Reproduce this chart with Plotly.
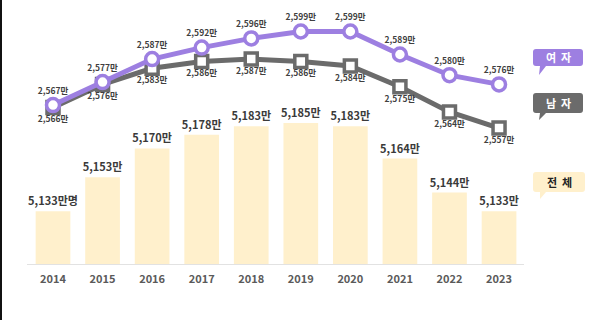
import plotly.graph_objects as go

years = ["2014", "2015", "2016", "2017", "2018", "2019", "2020", "2021", "2022", "2023"]
total = [5133, 5153, 5170, 5178, 5183, 5185, 5183, 5164, 5144, 5133]
female = [2567, 2577, 2587, 2592, 2596, 2599, 2599, 2589, 2580, 2576]
male = [2566, 2576, 2583, 2586, 2587, 2586, 2584, 2575, 2564, 2557]

W, H = 600, 320
PLOT_H = 264
FONT = "Noto Sans CJK KR"
PURPLE = "#9d7fe1"
GRAY = "#6b6b6b"
CREAM = "#fff0cc"

xs = list(range(len(years)))
total_txt = [f"{v:,}만" + ("명" if i == 0 else "") for i, v in enumerate(total)]
female_txt = [f"{v:,}만" for v in female]
male_txt = [f"{v:,}만" for v in male]

fig = go.Figure()
fig.add_trace(go.Bar(
    x=xs, y=total, width=0.7, marker=dict(color=CREAM, line=dict(width=0)),
    text=total_txt, textposition="outside", cliponaxis=False, constraintext="none",
    textfont=dict(family=FONT, size=11, color="#3a3a3a", weight=700),
    yaxis="y", hoverinfo="skip"))
fig.add_trace(go.Scatter(
    x=xs, y=male, mode="lines+markers+text", yaxis="y2",
    line=dict(color=GRAY, width=5),
    marker=dict(symbol="square", size=12, color="white", line=dict(color=GRAY, width=3.5)),
    text=male_txt, textposition="bottom center", cliponaxis=False,
    textfont=dict(family=FONT, size=8.5, color="#3f3f3f", weight=700), hoverinfo="skip"))
fig.add_trace(go.Scatter(
    x=xs, y=female, mode="lines+markers+text", yaxis="y2",
    line=dict(color=PURPLE, width=5),
    marker=dict(symbol="circle", size=13, color="white", line=dict(color=PURPLE, width=3.5)),
    text=female_txt, textposition="top center", cliponaxis=False,
    textfont=dict(family=FONT, size=8.5, color="#3f3f3f", weight=700), hoverinfo="skip"))

def X(p):
    return p / W

def Y(p):
    return 1 - p / PLOT_H

shapes = []
# baseline
shapes.append(dict(type="line", xref="paper", yref="paper", x0=X(27), x1=X(524), y0=Y(264.5), y1=Y(264.5),
                   line=dict(color="#e2e2e2", width=1)))
# left border
shapes.append(dict(type="rect", xref="paper", yref="paper", x0=X(0), x1=X(2), y0=Y(0), y1=Y(320),
                   fillcolor="#111111", line=dict(width=0)))

def bubble(x0, y0, x1, y1, tail_x, tail_y, color):
    r = 3
    path = (f"M {X(x0+r)},{Y(y0)} L {X(x1-r)},{Y(y0)} Q {X(x1)},{Y(y0)} {X(x1)},{Y(y0+r)} "
            f"L {X(x1)},{Y(y1-r)} Q {X(x1)},{Y(y1)} {X(x1-r)},{Y(y1)} "
            f"L {X(x0+13)},{Y(y1)} L {X(tail_x)},{Y(tail_y)} L {X(x0+7)},{Y(y1)} "
            f"L {X(x0+r)},{Y(y1)} Q {X(x0)},{Y(y1)} {X(x0)},{Y(y1-r)} "
            f"L {X(x0)},{Y(y0+r)} Q {X(x0)},{Y(y0)} {X(x0+r)},{Y(y0)} Z")
    return dict(type="path", xref="paper", yref="paper", path=path, fillcolor=color, line=dict(width=0))

shapes.append(bubble(533, 49, 583, 66, 539, 75, PURPLE))
shapes.append(bubble(533, 93, 583, 113, 539, 120, GRAY))
shapes.append(bubble(533, 172, 585, 192, 540, 199, CREAM))

def label(xp, yp, txt, color):
    return dict(xref="paper", yref="paper", x=X(xp), y=Y(yp), text=f"<b>{txt}</b>", showarrow=False,
                xanchor="center", yanchor="middle", font=dict(family=FONT, size=11, color=color))

annotations = [
    label(558, 57.5, "여&nbsp;&nbsp;자", "white"),
    label(558, 103, "남&nbsp;&nbsp;자", "white"),
    label(559, 182, "전&nbsp;&nbsp;체", "#222222"),
]

x_lo = -53 / 49.56
x_hi = (600 - 53) / 49.56

fig.update_layout(
    width=W, height=H, margin=dict(l=0, r=0, t=0, b=H - PLOT_H),
    paper_bgcolor="white", plot_bgcolor="white", showlegend=False,
    font=dict(family=FONT),
    xaxis=dict(range=[x_lo, x_hi], tickvals=xs, ticktext=years, showgrid=False, zeroline=False,
               showline=False, ticks="", ticklabelstandoff=7,
               tickfont=dict(family=FONT, size=11, color="#5a5a5a", weight=700)),
    yaxis=dict(range=[5102, 5102 + PLOT_H / 1.7], visible=False, showgrid=False),
    yaxis2=dict(range=[2599 - (PLOT_H - 31.5) / 2.3, 2599 + 31.5 / 2.3], overlaying="y",
                visible=False, showgrid=False),
    shapes=shapes, annotations=annotations,
)

fig.write_html("out.html")
